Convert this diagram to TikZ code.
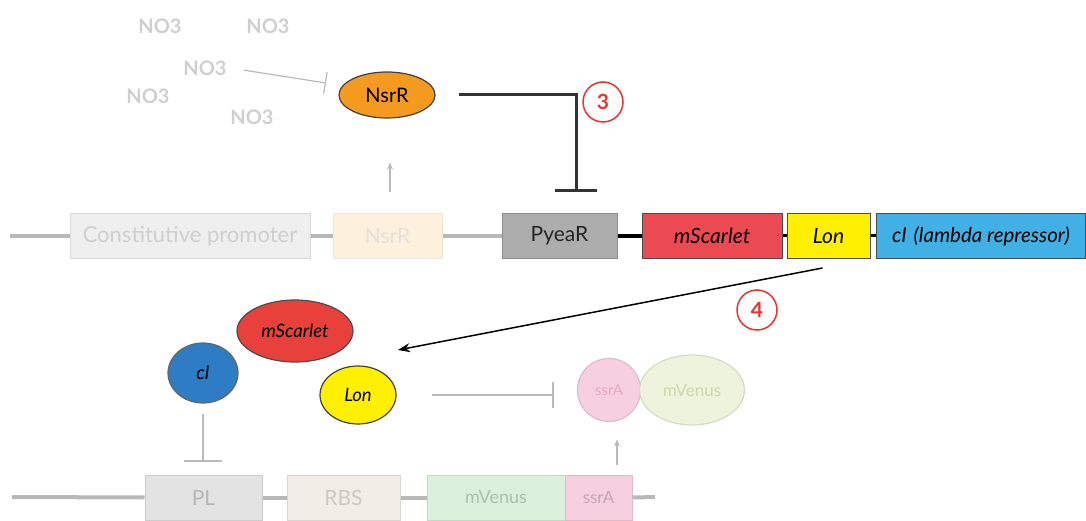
\documentclass[tikz,border=0pt]{standalone}
\usepackage{fontspec}
\setmainfont{Lato}
\usetikzlibrary{arrows.meta,calc,shapes.geometric}
\definecolor{bb}{HTML}{B8B8B8}
\definecolor{faint}{HTML}{CFCFCF}
\definecolor{dk}{HTML}{333333}
\definecolor{cpfill}{HTML}{EFEFEF}
\definecolor{nsrgfill}{HTML}{FDF0DD}
\definecolor{pyfill}{HTML}{ADADAD}
\definecolor{scar}{HTML}{EC4A52}
\definecolor{lony}{HTML}{FFF000}
\definecolor{cib}{HTML}{41B0E4}
\definecolor{orng}{HTML}{F39A1F}
\definecolor{scarp}{HTML}{E8403A}
\definecolor{cip}{HTML}{2E7CC4}
\definecolor{plfill}{HTML}{E3E3E3}
\definecolor{rbsfill}{HTML}{F3EDE7}
\definecolor{mvfill}{HTML}{DAF0DD}
\definecolor{ssrfill}{HTML}{F7D0E0}
\definecolor{ssrtext}{HTML}{E6A9C0}
\definecolor{mvpfill}{HTML}{EEF3DC}
\definecolor{mvptext}{HTML}{CDD8B0}
\definecolor{numred}{HTML}{E8342F}
\tikzset{
  gene/.style={draw, line width=1pt, rectangle, minimum height=45pt, inner sep=0pt, font=\fontsize{21}{23}\selectfont},
  fadegene/.style={gene, draw=faint!80, text=faint},
  prot/.style={draw, line width=1.2pt, ellipse, inner sep=0pt, font=\fontsize{18.5}{20}\selectfont},
  no3/.style={text=faint, font=\bfseries\fontsize{20}{22}\selectfont},
  backbone/.style={bb, line width=4pt},
  grayarrow/.style={faint!90!black, line width=1.2pt, -{Stealth[length=7pt,width=6pt]}},
  inhib/.style={-{Bar[width=#1]}},
  numc/.style={circle, draw=numred, line width=1.5pt, minimum size=40pt, inner sep=0pt, text=numred, font=\bfseries\fontsize{21}{23}\selectfont}
}
\begin{document}
\begin{tikzpicture}[x=1pt,y=-1pt]
\path[use as bounding box] (0,0) rectangle (1086,521);
% NO3
\node[no3] (n1) at (160,26) {NO3};
\node[no3] (n2) at (268,26) {NO3};
\node[no3] (n3) at (205,68) {NO3};
\node[no3] (n4) at (148,96) {NO3};
\node[no3] (n5) at (252,117) {NO3};
% NsrR protein
\node[prot, fill=orng, draw=black!75, minimum width=96pt, minimum height=46pt, font=\fontsize{20}{22}\selectfont] (nsr) at (387,95) {NsrR};
\coordinate (nsrin) at (326,83);
\draw[faint!90!black, line width=1.2pt, shorten <=14pt, inhib=22pt] (n3.east) -- (nsrin);
% top genes
\node[fadegene, fill=cpfill, minimum width=240pt, font=\fontsize{22}{24}\selectfont] (cp) at (190,236) {Constitutive promoter};
\node[fadegene, fill=nsrgfill, draw=nsrgfill!80!black!40, text=nsrgfill!70!black!35, minimum width=109pt] (nsrg) at (387.5,236) {NsrR};
\node[gene, fill=pyfill, draw=black!45, minimum width=115pt, text=black!85] (py) at (559.5,236) {PyeaR};
\node[gene, fill=scar, draw=black!70, minimum width=140pt, font=\itshape\fontsize{21}{23}\selectfont] (msc) at (712,236) {mScarlet};
\node[gene, fill=lony, draw=black!70, minimum width=83pt, font=\itshape\fontsize{21}{23}\selectfont] (lon) at (828.5,236) {Lon};
\node[gene, fill=cib, draw=black!70, minimum width=209pt, font=\itshape\fontsize{20.5}{23}\selectfont] (ci) at (981,236) {cI\,\,(lambda repressor)};
\coordinate (lstart) at (10,236);
\draw[backbone] (lstart) -- (cp.west);
\draw[backbone] (cp.east) -- (nsrg.west);
\draw[backbone] (nsrg.east) -- (py.west);
\draw[black, line width=4pt] (py.east) -- (msc.west);
\draw[black, line width=3pt] (msc.east) -- (lon.west);
\draw[black, line width=3pt] (lon.east) -- (ci.west);
% NsrR -> PyeaR repression
\coordinate (pyin) at (576,192);
\draw[dk, line width=3pt, shorten <=23pt, inhib=42pt] (nsr.east) -| (pyin);
\node[numc] (c3) at (603,102) {3};
% NsrR gene expression arrow
\draw[grayarrow, shorten <=21pt, shorten >=44pt] ($(nsrg.north)+(2.5,0)$) -- ($(nsr.south)+(3,0)$);
% arrow 4
\coordinate (a4e) at (398,350);
\draw[black, line width=1.5pt, -{Stealth[length=12pt,width=9pt]}] ($(lon.south)+(-6,9)$) -- (a4e);
\node[numc] (c4) at (757,310) {4};
% proteins bottom
\node[prot, fill=scarp, draw=black!70, minimum width=116pt, minimum height=62pt, font=\itshape\fontsize{18.5}{20}\selectfont] (mscp) at (295,331) {mScarlet};
\node[prot, fill=cip, draw=black!60, minimum width=70pt, minimum height=60pt, font=\itshape\fontsize{19}{20}\selectfont] (cipr) at (203,373) {cI};
\node[prot, fill=lony, draw=black!75, minimum width=76pt, minimum height=58pt, font=\itshape\fontsize{18.5}{20}\selectfont] (lonp) at (358,395) {Lon};
\node[prot, circle, fill=ssrfill, draw=ssrfill!90!black, minimum size=63pt, text=ssrtext, font=\fontsize{15}{17}\selectfont] (ssrp) at (609,390) {ssrA};
\node[prot, fill=mvpfill, draw=mvpfill!90!black, minimum width=105pt, minimum height=70pt, text=mvptext, font=\fontsize{17}{19}\selectfont] (mvp) at (692,390) {mVenus};
% bottom genes
\node[fadegene, fill=plfill, draw=plfill!90!black, text=plfill!80!black, minimum width=117pt] (pl) at (203.5,497.5) {PL};
\node[fadegene, fill=rbsfill, draw=rbsfill!90!black, text=rbsfill!85!black, minimum width=113pt] (rbs) at (343.5,497.5) {RBS};
\node[fadegene, fill=mvfill, draw=mvfill!90!black, text=mvfill!80!black, minimum width=138pt, font=\fontsize{18}{20}\selectfont] (mvg) at (496,497.5) {mVenus};
\node[fadegene, fill=ssrfill, draw=ssrfill!90!black, text=ssrfill!80!black, minimum width=67pt, font=\fontsize{17}{19}\selectfont] (ssrg) at (598.5,497.5) {ssrA};
\coordinate (bstart) at (12,497);
\coordinate (bend) at (655,497);
\draw[backbone] (bstart) -- (pl.west);
\draw[backbone] (pl.east) -- (rbs.west);
\draw[backbone] (rbs.east) -- (mvg.west);
\draw[backbone] (ssrg.east) -- (bend);
% bottom regulation
\draw[faint!90!black, line width=1.5pt, shorten <=10pt, shorten >=13pt, inhib=38pt] (cipr.south) -- (cipr.south |- pl.north);
\draw[faint!90!black, line width=1.5pt, shorten <=35pt, shorten >=23pt, inhib=26pt] (lonp.east) -- (lonp.east -| ssrp.west);
\draw[grayarrow] ($(ssrg.north)+(18.5,-10)$) -- ++(0,-25);
\end{tikzpicture}
\end{document}
